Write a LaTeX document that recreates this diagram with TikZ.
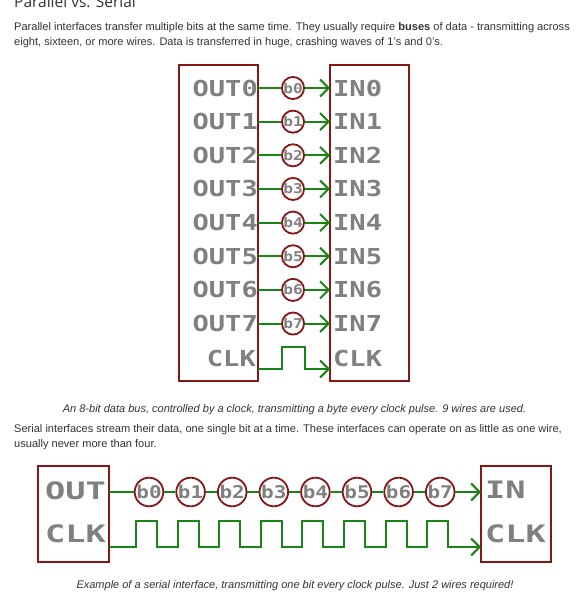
\documentclass[tikz,border=0pt]{standalone}
\usepackage{fontspec}
\usepackage{graphicx}
\setmainfont{Liberation Sans}
\newfontfamily\eagfont{DejaVu Sans Mono}
\newfontfamily\titlefont{Open Sans}
\usetikzlibrary{arrows.meta}
\definecolor{boxred}{RGB}{135,22,22}
\definecolor{wiregreen}{RGB}{22,135,22}
\definecolor{eaggray}{RGB}{128,128,128}
\definecolor{txt}{RGB}{51,51,51}
\newcommand\wideA[1]{\scalebox{1.23}[1]{#1}}
\newcommand\wideB[1]{\scalebox{1.2}[1]{#1}}
\newcommand\wideC[1]{\scalebox{1.4}[1]{#1}}
\tikzset{
  box/.style={draw=boxred, line width=2.7pt, inner sep=0pt},
  wire/.style={draw=wiregreen, line width=2pt},
  arr/.style={-{Straight Barb[length=8.5pt,width=17pt]}},
  plab/.style={text=eaggray, inner sep=0pt, font=\eagfont\bfseries\fontsize{22}{22}\selectfont},
  slab/.style={text=eaggray, inner sep=0pt, font=\eagfont\bfseries\fontsize{24}{24}\selectfont},
  pbit/.style={circle, draw=boxred, fill=white, line width=1.8pt, inner sep=0pt, minimum size=22pt, text=eaggray, font=\eagfont\bfseries\fontsize{13.5}{13.5}\selectfont},
  sbit/.style={circle, draw=boxred, fill=white, line width=1.8pt, inner sep=0pt, minimum size=27pt, text=eaggray, font=\eagfont\bfseries\fontsize{17.5}{17.5}\selectfont},
  body/.style={text=txt, inner sep=0pt, anchor=base west, font=\fontsize{11.05}{13}\selectfont},
  captext/.style={text=txt, inner sep=0pt, anchor=base, font=\itshape\fontsize{11}{13}\selectfont},
}
\begin{document}
\begin{tikzpicture}[x=1pt,y=-1pt]
\useasboundingbox[fill=white] (0,0) rectangle (575,596);
% texts
\node[text=txt, inner sep=0pt, anchor=base west, font=\titlefont\fontsize{15.5}{18}\selectfont] (title) at (14,8) {Parallel vs. Serial};
\node[body] (p1a) at (14,31) {Parallel interfaces transfer multiple bits at the same time. They usually require \textbf{buses} of data - transmitting across};
\node[body] (p1b) at (14,46) {eight, sixteen, or more wires. Data is transferred in huge, crashing waves of 1’s and 0’s.};
\node[captext] (c1) at (294.5,412) {An 8-bit data bus, controlled by a clock, transmitting a byte every clock pulse. 9 wires are used.};
\node[body] (p2a) at (14,432) {Serial interfaces stream their data, one single bit at a time. These interfaces can operate on as little as one wire,};
\node[body] (p2b) at (14,447) {usually never more than four.};
\node[captext] (c2) at (295,588) {Example of a serial interface, transmitting one bit every clock pulse. Just 2 wires required!};

% parallel diagram
\node[box, minimum width=79pt, minimum height=316pt] (ptx) at (218.5,223) {};
\node[box, minimum width=79pt, minimum height=316pt] (prx) at (369.5,223) {};
\foreach \i in {0,...,7} {
  \pgfmathsetmacro\yy{88+33.65*\i}
  \node[plab, anchor=east] (po\i) at (258,\yy) {\wideA{OUT\i}};
  \node[plab, anchor=west] (pi\i) at (333,\yy) {\wideA{IN\i}};
  \node[pbit] (pb\i) at (293,\yy) {\wideB{b\i}};
  \coordinate (pl\i) at (258,\yy);
  \coordinate (pr\i) at (330,\yy);
  \draw[wire] (pl\i) -- (pb\i);
  \draw[wire,arr] (pb\i) -- (pr\i);
}
\node[plab, anchor=east] (pco) at (256,358) {\wideA{CLK}};
\node[plab, anchor=west] (pci) at (333,358) {\wideA{CLK}};
\coordinate (pcl) at (258,369);
\coordinate (pcr) at (330,369);
\draw[wire,arr] (pcl) -- (282,369) -- (282,347) -- (305,347) -- (305,369) -- (pcr);

% serial diagram
\node[box, minimum width=71pt, minimum height=96pt] (stx) at (73.5,514) {};
\node[box, minimum width=70pt, minimum height=96pt] (srx) at (516,514) {};
\node[slab, anchor=west] (so) at (45,491) {\wideC{OUT}};
\node[slab, anchor=west] (sc) at (45,534) {\wideC{CLK}};
\node[slab, anchor=west] (si) at (485,490) {\wideC{IN}};
\node[slab, anchor=west] (sci) at (485,534) {\wideC{CLK}};
\foreach \i in {0,...,7} {
  \node[sbit] (sb\i) at ({149+41.6*\i},492) {\wideB{b\i}};
}
\coordinate (sl) at (109,492);
\coordinate (sr) at (481,492);
\draw[wire] (sl) -- (sb0);
\foreach \i [evaluate=\i as \j using int(\i+1)] in {0,...,6} {
  \draw[wire] (sb\i) -- (sb\j);
}
\draw[wire,arr] (sb7) -- (sr);
\coordinate (scl) at (109,547);
\coordinate (scr) at (481,547);
\draw[wire,arr] (scl) \foreach \i in {0,...,7} { -- ({136+41.6*\i},547) -- ++(0,-26) -- ++(21,0) -- ++(0,26)} -- (scr);
\end{tikzpicture}
\end{document}
